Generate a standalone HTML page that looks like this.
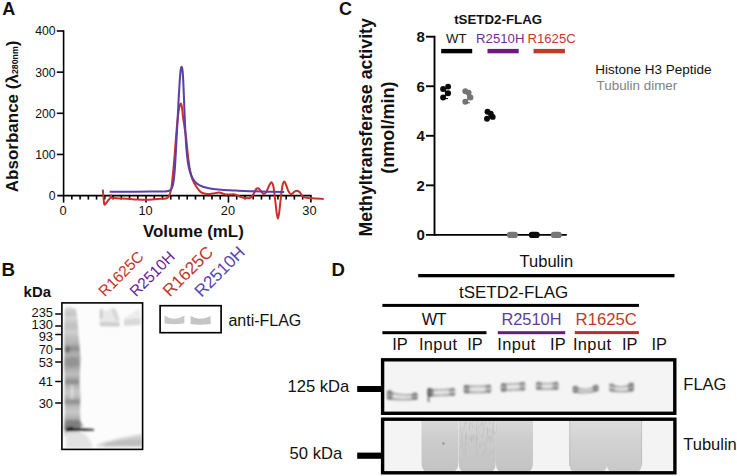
<!DOCTYPE html>
<html><head><meta charset="utf-8"><style>
html,body{margin:0;padding:0;background:#fff;}
svg{display:block;}
text{font-family:"Liberation Sans",sans-serif;}
.b{font-weight:bold;}
</style></head><body>
<svg width="737" height="476" viewBox="0 0 737 476">
<defs>
<filter id="blur1" x="-20%" y="-20%" width="140%" height="140%"><feGaussianBlur stdDeviation="0.8"/></filter>
<filter id="blur07" x="-20%" y="-20%" width="140%" height="140%"><feGaussianBlur stdDeviation="0.6"/></filter>
<filter id="mottle" x="0" y="0" width="100%" height="100%" color-interpolation-filters="sRGB"><feTurbulence type="fractalNoise" baseFrequency="0.55 0.14" numOctaves="2" seed="7" result="n"/><feColorMatrix in="n" type="matrix" values="0 0 0 0 0.70  0 0 0 0 0.70  0 0 0 0 0.70  0 0 0 2.6 -1.15" result="nm"/><feGaussianBlur in="nm" stdDeviation="0.6" result="nb"/><feComposite in="nb" in2="SourceGraphic" operator="in"/></filter>
<filter id="blur09" x="-20%" y="-20%" width="140%" height="140%"><feGaussianBlur stdDeviation="0.9"/></filter>
<filter id="blur3" x="-20%" y="-20%" width="140%" height="140%"><feGaussianBlur stdDeviation="1.8"/></filter>
<filter id="blur2" x="-20%" y="-20%" width="140%" height="140%"><feGaussianBlur stdDeviation="1.2"/></filter>
<linearGradient id="ladg" gradientUnits="userSpaceOnUse" x1="0" y1="305" x2="0" y2="448">
<stop offset="0.000" stop-color="#f4f4f4"/><stop offset="0.028" stop-color="#d4d4d4"/><stop offset="0.063" stop-color="#c4c4c4"/><stop offset="0.091" stop-color="#d8d8d8"/><stop offset="0.119" stop-color="#c8c8c8"/><stop offset="0.154" stop-color="#c0c0c0"/><stop offset="0.189" stop-color="#d0d0d0"/><stop offset="0.224" stop-color="#c0c0c0"/><stop offset="0.266" stop-color="#b4b4b4"/><stop offset="0.308" stop-color="#8c8c8c"/><stop offset="0.336" stop-color="#b0b0b0"/><stop offset="0.371" stop-color="#a4a4a4"/><stop offset="0.406" stop-color="#9a9a9a"/><stop offset="0.441" stop-color="#a8a8a8"/><stop offset="0.483" stop-color="#c0c0c0"/><stop offset="0.510" stop-color="#acacac"/><stop offset="0.538" stop-color="#8a8a8a"/><stop offset="0.566" stop-color="#b4b4b4"/><stop offset="0.608" stop-color="#c8c8c8"/><stop offset="0.643" stop-color="#bcbcbc"/><stop offset="0.678" stop-color="#8c8c8c"/><stop offset="0.706" stop-color="#b8b8b8"/><stop offset="0.748" stop-color="#c8c8c8"/><stop offset="0.790" stop-color="#b0b0b0"/><stop offset="0.825" stop-color="#8c8c8c"/><stop offset="0.853" stop-color="#7a7a7a"/><stop offset="0.888" stop-color="#d0d0d0"/><stop offset="0.944" stop-color="#dadada"/><stop offset="1.000" stop-color="#e0e0e0"/>
</linearGradient>
<linearGradient id="mgrad" x1="0" y1="0" x2="0" y2="1"><stop offset="0" stop-color="#fff"/><stop offset=".55" stop-color="#fff"/><stop offset="1" stop-color="#000"/></linearGradient>
<mask id="mmask" maskUnits="userSpaceOnUse" x="455" y="418" width="50" height="50"><rect x="460" y="420" width="37" height="44" fill="url(#mgrad)" filter="url(#blur2)"/></mask>
<linearGradient id="tg2" x1="0" y1="0" x2="0" y2="1"><stop offset="0" stop-color="#dedede"/><stop offset=".4" stop-color="#d2d2d2"/><stop offset="1" stop-color="#c8c8c8"/></linearGradient>
<linearGradient id="tg" x1="0" y1="0" x2="0" y2="1">
<stop offset="0" stop-color="#d9d9d9"/><stop offset=".35" stop-color="#cdcdcd"/><stop offset="1" stop-color="#c3c3c3"/>
</linearGradient>
</defs>
<rect width="737" height="476" fill="#fff"/>
<g fill="#111">
<text x="2.3" y="14.9" class="b" font-size="18">A</text>
<g stroke="#000" stroke-width="1.6" fill="none">
<line x1="63.60" y1="30.2" x2="63.60" y2="202.6"/>
<line x1="57.3" y1="195.60" x2="311.6" y2="195.60"/>
<line x1="56.8" y1="154.45" x2="63.60" y2="154.45"/>
<line x1="56.8" y1="113.30" x2="63.60" y2="113.30"/>
<line x1="56.8" y1="72.15" x2="63.60" y2="72.15"/>
<line x1="56.8" y1="31.00" x2="63.60" y2="31.00"/>
<line x1="71.84" y1="195.60" x2="71.84" y2="199.60"/>
<line x1="80.09" y1="195.60" x2="80.09" y2="199.60"/>
<line x1="88.33" y1="195.60" x2="88.33" y2="199.60"/>
<line x1="96.57" y1="195.60" x2="96.57" y2="199.60"/>
<line x1="104.81" y1="195.60" x2="104.81" y2="199.60"/>
<line x1="113.06" y1="195.60" x2="113.06" y2="199.60"/>
<line x1="121.30" y1="195.60" x2="121.30" y2="199.60"/>
<line x1="129.54" y1="195.60" x2="129.54" y2="199.60"/>
<line x1="137.79" y1="195.60" x2="137.79" y2="199.60"/>
<line x1="146.03" y1="195.60" x2="146.03" y2="202.60"/>
<line x1="154.27" y1="195.60" x2="154.27" y2="199.60"/>
<line x1="162.52" y1="195.60" x2="162.52" y2="199.60"/>
<line x1="170.76" y1="195.60" x2="170.76" y2="199.60"/>
<line x1="179.00" y1="195.60" x2="179.00" y2="199.60"/>
<line x1="187.25" y1="195.60" x2="187.25" y2="199.60"/>
<line x1="195.49" y1="195.60" x2="195.49" y2="199.60"/>
<line x1="203.73" y1="195.60" x2="203.73" y2="199.60"/>
<line x1="211.97" y1="195.60" x2="211.97" y2="199.60"/>
<line x1="220.22" y1="195.60" x2="220.22" y2="199.60"/>
<line x1="228.46" y1="195.60" x2="228.46" y2="202.60"/>
<line x1="236.70" y1="195.60" x2="236.70" y2="199.60"/>
<line x1="244.95" y1="195.60" x2="244.95" y2="199.60"/>
<line x1="253.19" y1="195.60" x2="253.19" y2="199.60"/>
<line x1="261.43" y1="195.60" x2="261.43" y2="199.60"/>
<line x1="269.68" y1="195.60" x2="269.68" y2="199.60"/>
<line x1="277.92" y1="195.60" x2="277.92" y2="199.60"/>
<line x1="286.16" y1="195.60" x2="286.16" y2="199.60"/>
<line x1="294.40" y1="195.60" x2="294.40" y2="199.60"/>
<line x1="302.65" y1="195.60" x2="302.65" y2="199.60"/>
<line x1="310.89" y1="195.60" x2="310.89" y2="202.60"/>
</g>
<text x="55.5" y="200.00" font-size="12.2" text-anchor="end">0</text>
<text x="55.5" y="158.85" font-size="12.2" text-anchor="end">100</text>
<text x="55.5" y="117.70" font-size="12.2" text-anchor="end">200</text>
<text x="55.5" y="76.55" font-size="12.2" text-anchor="end">300</text>
<text x="55.5" y="35.40" font-size="12.2" text-anchor="end">400</text>
<text x="63.10" y="214.8" font-size="12.8" text-anchor="middle">0</text>
<text x="145.53" y="214.8" font-size="12.8" text-anchor="middle">10</text>
<text x="227.96" y="214.8" font-size="12.8" text-anchor="middle">20</text>
<text x="309.39" y="214.8" font-size="12.8" text-anchor="middle">30</text>
<text x="143" y="237" class="b" font-size="16.85">Volume (mL)</text>
<text transform="translate(17.6,192.2) rotate(-90)" class="b" font-size="17">Absorbance (λ<tspan font-size="8.8">280nm</tspan>)</text>
<path d="M102.80,189.60 C102.92,190.83 103.25,194.55 103.50,197.00 C103.75,199.45 103.88,203.27 104.30,204.30 C104.72,205.33 105.30,203.95 106.00,203.20 C106.70,202.45 107.78,200.67 108.50,199.80 C109.22,198.93 109.88,198.77 110.30,198.00 C110.72,197.23 110.77,195.23 111.00,195.20 C111.23,195.17 110.20,197.27 111.70,197.80 C113.20,198.33 116.12,198.13 120.00,198.40 C123.88,198.67 130.67,199.17 135.00,199.40 C139.33,199.63 142.17,199.87 146.00,199.80 C149.83,199.73 154.67,199.23 158.00,199.00 C161.33,198.77 164.20,198.80 166.00,198.40 C167.80,198.00 168.08,197.58 168.80,196.60 C169.52,195.62 169.85,194.02 170.30,192.50 C170.75,190.98 171.15,189.72 171.50,187.50 C171.85,185.28 172.07,182.45 172.40,179.20 C172.73,175.95 173.15,171.70 173.50,168.00 C173.85,164.30 174.12,161.67 174.50,157.00 C174.88,152.33 175.40,145.07 175.80,140.00 C176.20,134.93 176.52,130.77 176.90,126.60 C177.28,122.43 177.72,118.18 178.10,115.00 C178.48,111.82 178.75,109.40 179.20,107.50 C179.65,105.60 180.33,103.60 180.80,103.60 C181.27,103.60 181.65,105.43 182.00,107.50 C182.35,109.57 182.48,112.75 182.90,116.00 C183.32,119.25 183.98,123.50 184.50,127.00 C185.02,130.50 185.55,133.50 186.00,137.00 C186.45,140.50 186.83,144.50 187.20,148.00 C187.57,151.50 187.73,154.33 188.20,158.00 C188.67,161.67 189.30,166.47 190.00,170.00 C190.70,173.53 191.45,176.60 192.40,179.20 C193.35,181.80 194.32,183.45 195.70,185.60 C197.08,187.75 198.77,190.70 200.70,192.10 C202.63,193.50 205.25,193.75 207.30,194.00 C209.35,194.25 211.02,193.83 213.00,193.60 C214.98,193.37 216.98,192.45 219.20,192.60 C221.42,192.75 223.68,194.20 226.30,194.50 C228.92,194.80 232.37,193.93 234.90,194.40 C237.43,194.87 238.98,196.70 241.50,197.30 C244.02,197.90 248.00,198.55 250.00,198.00 C252.00,197.45 252.47,195.50 253.50,194.00 C254.53,192.50 255.42,189.95 256.20,189.00 C256.98,188.05 257.43,188.00 258.20,188.30 C258.97,188.60 259.87,189.85 260.80,190.80 C261.73,191.75 262.88,193.80 263.80,194.00 C264.72,194.20 265.40,193.42 266.30,192.00 C267.20,190.58 268.35,187.12 269.20,185.50 C270.05,183.88 270.70,182.13 271.40,182.30 C272.10,182.47 272.77,183.55 273.40,186.50 C274.03,189.45 274.67,195.67 275.20,200.00 C275.73,204.33 276.15,209.40 276.60,212.50 C277.05,215.60 277.47,218.60 277.90,218.60 C278.33,218.60 278.75,215.60 279.20,212.50 C279.65,209.40 280.07,204.42 280.60,200.00 C281.13,195.58 281.78,189.07 282.40,186.00 C283.02,182.93 283.65,181.68 284.30,181.60 C284.95,181.52 285.58,183.83 286.30,185.50 C287.02,187.17 287.78,190.13 288.60,191.60 C289.42,193.07 290.27,194.27 291.20,194.30 C292.13,194.33 293.20,192.40 294.20,191.80 C295.20,191.20 296.23,190.58 297.20,190.70 C298.17,190.82 299.15,191.65 300.00,192.50 C300.85,193.35 301.47,194.95 302.30,195.80 C303.13,196.65 303.38,197.18 305.00,197.60 C306.62,198.02 308.88,198.07 312.00,198.30 C315.12,198.53 321.75,198.88 323.70,199.00" fill="none" stroke="#c9302c" stroke-width="2.0" stroke-linejoin="round"/>
<path d="M109.70,191.70 C113.08,191.70 123.28,191.72 130.00,191.70 C136.72,191.68 144.17,191.65 150.00,191.60 C155.83,191.55 161.92,191.52 165.00,191.40 C168.08,191.28 167.53,191.20 168.50,190.90 C169.47,190.60 170.15,190.28 170.80,189.60 C171.45,188.92 171.93,188.23 172.40,186.80 C172.87,185.37 173.23,183.47 173.60,181.00 C173.97,178.53 174.28,175.83 174.60,172.00 C174.92,168.17 175.17,163.67 175.50,158.00 C175.83,152.33 176.22,145.00 176.60,138.00 C176.98,131.00 177.43,123.00 177.80,116.00 C178.17,109.00 178.47,102.00 178.80,96.00 C179.13,90.00 179.48,84.33 179.80,80.00 C180.12,75.67 180.40,72.20 180.70,70.00 C181.00,67.80 181.30,66.80 181.60,66.80 C181.90,66.80 182.23,67.80 182.50,70.00 C182.77,72.20 182.97,75.67 183.20,80.00 C183.43,84.33 183.67,90.17 183.90,96.00 C184.13,101.83 184.35,109.00 184.60,115.00 C184.85,121.00 185.08,126.17 185.40,132.00 C185.72,137.83 186.07,144.83 186.50,150.00 C186.93,155.17 187.42,159.33 188.00,163.00 C188.58,166.67 189.17,169.33 190.00,172.00 C190.83,174.67 191.83,177.07 193.00,179.00 C194.17,180.93 195.33,182.30 197.00,183.60 C198.67,184.90 200.83,186.00 203.00,186.80 C205.17,187.60 206.92,187.90 210.00,188.40 C213.08,188.90 217.17,189.43 221.50,189.80 C225.83,190.17 231.25,190.37 236.00,190.60 C240.75,190.83 244.33,191.02 250.00,191.20 C255.67,191.38 264.30,191.55 270.00,191.70 C275.70,191.85 281.83,192.03 284.20,192.10" fill="none" stroke="#5c40aa" stroke-width="2.05" stroke-linejoin="round"/>
<text x="1.6" y="275.8" class="b" font-size="18.8">B</text>
<text x="23.6" y="297.2" class="b" font-size="14.9">kDa</text>
<text x="53.0" y="317.3" font-size="12.9" text-anchor="end">235</text>
<line x1="55.2" y1="314.0" x2="61.4" y2="314.0" stroke="#000" stroke-width="1.5"/>
<text x="53.0" y="329.2" font-size="12.9" text-anchor="end">130</text>
<line x1="55.2" y1="326.0" x2="61.4" y2="326.0" stroke="#000" stroke-width="1.5"/>
<text x="53.0" y="340.6" font-size="12.9" text-anchor="end">93</text>
<line x1="55.2" y1="334.5" x2="61.4" y2="334.5" stroke="#000" stroke-width="1.5"/>
<text x="53.0" y="354.2" font-size="12.9" text-anchor="end">70</text>
<line x1="55.2" y1="349.0" x2="61.4" y2="349.0" stroke="#000" stroke-width="1.5"/>
<text x="53.0" y="366.8" font-size="12.9" text-anchor="end">53</text>
<line x1="55.2" y1="362.0" x2="61.4" y2="362.0" stroke="#000" stroke-width="1.5"/>
<text x="53.0" y="386.3" font-size="12.9" text-anchor="end">41</text>
<line x1="55.2" y1="381.5" x2="61.4" y2="381.5" stroke="#000" stroke-width="1.5"/>
<text x="53.0" y="407.7" font-size="12.9" text-anchor="end">30</text>
<line x1="55.2" y1="403.0" x2="61.4" y2="403.0" stroke="#000" stroke-width="1.5"/>
<text transform="translate(104.8,297.6) rotate(-45)" font-size="15.4" fill="#c0372c">R1625C</text>
<text transform="translate(136.0,297.6) rotate(-45)" font-size="15.4" fill="#6a1d96">R2510H</text>
<text transform="translate(169.8,297.5) rotate(-45)" font-size="17.1" fill="#c0372c">R1625C</text>
<text transform="translate(201.4,298.0) rotate(-45)" font-size="17.2" fill="#5a48b0">R2510H</text>
<rect x="62.2" y="303.3" width="80" height="145" fill="#fcfcfc"/>
<g filter="url(#blur2)">
<path d="M64.5,312 C65,307 67,305 69,308 C70,305 72,306 73,309 C74,307 75.5,307 76,310 L77.5,320 L78.5,335 L79.5,345 L80.5,358 L80,370 L79.5,382 L80.5,395 L80,410 L80.5,425 L81,432 L80,436 L64.5,436 L64,430 L64.8,410 L64.3,395 L64.8,380 L64,365 L64.5,350 L64,335 Z" fill="url(#ladg)"/>
<ellipse cx="67.5" cy="349.5" rx="2.6" ry="3.5" fill="#666" opacity=".7"/>
<ellipse cx="72" cy="362" rx="7" ry="5" fill="#888" opacity=".45"/>
<rect x="70.5" y="385" width="3" height="14" fill="#fff" opacity=".35"/>
<path d="M65.5,428.5 L71,426.5 L74,428 L94,429 L94,430.5 L66,431.5 Z" fill="#1e1e1e"/>
<path d="M66,420 L80,420 L84,427 L66,427 Z" fill="#777" opacity=".55"/>
<path d="M99.5,326 L99.5,311 C100,308 102,307.5 103,310 C105,312 108,311 111,308.5 C113,307 115,308 117,311 L119.5,318 L119.5,326.5 Z" fill="#e8e8e8"/>
<path d="M124,326 L124,318 C127,316 130,315 133,313 C135,311 137,309 139,309.5 L140.5,312 L140.5,325 Z" fill="#ececec"/>
<rect x="100.2" y="309.5" width="2.2" height="9" fill="#c4c4c4"/>
<path d="M111.5,309 L115,309 L119,320 L116,321 Z" fill="#d4d4d4"/>
<path d="M100,322 L119.5,322.5 L119.5,326.5 L100,326.2 Z" fill="#cdcdcd"/>
<path d="M124,319.5 L140.5,318.5 L140.5,325 L124,325.5 Z" fill="#d8d8d8"/>
</g>
<g filter="url(#blur3)">
<path d="M66,433 L84,433 L90,440 L93,448 L66,448 Z" fill="#e2e2e2"/>
<path d="M97,446.5 L97,444.5 C108,441 124,437 142,434 L142,446.5 Z" fill="#d2d2d2"/>
<path d="M104,446.5 L104,443.5 C116,441 130,439 142,438.5 L142,446.5 Z" fill="#bdbdbd"/>
</g>
<rect x="61.9" y="302.9" width="80.7" height="146.5" fill="none" stroke="#000" stroke-width="1.6"/>
<g filter="url(#blur07)">
<path d="M164.5,315.5 Q174,322 184.4,315.5 L184.4,323.3 Q174,325 164.5,323.3 Z" fill="#c8c8c8"/>
<path d="M190.6,316 Q200,321.5 210.6,316 L210.6,324 Q200,325.5 190.6,324 Z" fill="#c4c4c4"/>
</g>
<rect x="160.1" y="305.7" width="61" height="27" fill="none" stroke="#000" stroke-width="1.65"/>
<text x="228.4" y="325.5" font-size="16">anti-FLAG</text>
<text x="338.9" y="15.0" class="b" font-size="18">C</text>
<g stroke="#000" stroke-width="1.9" fill="none">
<line x1="434.5" y1="35.8" x2="434.5" y2="235.8"/>
<line x1="426" y1="234.9" x2="566.8" y2="234.9"/>
<line x1="426" y1="185.35" x2="434.5" y2="185.35"/>
<line x1="426" y1="135.80" x2="434.5" y2="135.80"/>
<line x1="426" y1="86.25" x2="434.5" y2="86.25"/>
<line x1="426" y1="36.70" x2="434.5" y2="36.70"/>
</g>
<text x="424.9" y="240.35" class="b" font-size="15" text-anchor="end">0</text>
<text x="424.9" y="190.80" class="b" font-size="15" text-anchor="end">2</text>
<text x="424.9" y="141.25" class="b" font-size="15" text-anchor="end">4</text>
<text x="424.9" y="91.70" class="b" font-size="15" text-anchor="end">6</text>
<text x="424.9" y="42.15" class="b" font-size="15" text-anchor="end">8</text>
<text x="454.2" y="23.9" class="b" font-size="13.3">tSETD2-FLAG</text>
<text x="446.1" y="42.7" font-size="13.2">WT</text>
<text x="476.1" y="42.7" font-size="13.2" fill="#7a2a96">R2510H</text>
<text x="527.4" y="42.7" font-size="13.2" fill="#c8382c">R1625C</text>
<rect x="441.2" y="48.9" width="31" height="4.4" fill="#000"/>
<rect x="487.5" y="48.9" width="31.2" height="4.4" fill="#6a1a80"/>
<rect x="533.5" y="48.9" width="31.4" height="4.4" fill="#c0392b"/>
<text x="595.3" y="73.6" font-size="13.5" fill="#111">Histone H3 Peptide</text>
<text x="596.6" y="89.9" font-size="13.4" fill="#828282">Tubulin dimer</text>
<g class="b" font-size="18" text-anchor="middle">
<text transform="translate(372,127.3) rotate(-90)" font-size="17.8">Methyltransferase activity</text>
<text transform="translate(394.2,127.6) rotate(-90)" font-size="18.1">(nmol/min)</text>
</g>
<line x1="445.6" y1="88" x2="445.6" y2="96.5" stroke="#0a0a0a" stroke-width="1.4"/>
<line x1="467.8" y1="92" x2="467.8" y2="100.5" stroke="#777" stroke-width="1.4"/>
<line x1="489.8" y1="112" x2="489.8" y2="119" stroke="#0a0a0a" stroke-width="1.4"/>
<circle cx="443.1" cy="89.0" r="2.95" fill="#0a0a0a"/>
<circle cx="448.1" cy="86.6" r="2.95" fill="#0a0a0a"/>
<circle cx="448.1" cy="93.2" r="2.95" fill="#0a0a0a"/>
<circle cx="443.1" cy="97.5" r="2.95" fill="#0a0a0a"/>
<circle cx="487.5" cy="111.7" r="2.95" fill="#0a0a0a"/>
<circle cx="490.8" cy="113.8" r="2.95" fill="#0a0a0a"/>
<circle cx="492.7" cy="116.9" r="2.95" fill="#0a0a0a"/>
<circle cx="487.0" cy="118.8" r="2.95" fill="#0a0a0a"/>
<circle cx="465.3" cy="91.3" r="2.95" fill="#757575"/>
<circle cx="468.6" cy="92.8" r="2.95" fill="#757575"/>
<circle cx="470.5" cy="97.5" r="2.95" fill="#757575"/>
<circle cx="465.3" cy="101.7" r="2.95" fill="#757575"/>
<line x1="444.5" y1="98.6" x2="448" y2="98.6" stroke="#000" stroke-width="1"/>
<line x1="466.5" y1="102.8" x2="470" y2="102.8" stroke="#555" stroke-width="1"/>
<rect x="506.9" y="231.8" width="11" height="6.2" rx="3.1" fill="#777"/>
<rect x="528.8" y="231.8" width="11" height="6.2" rx="3.1" fill="#0a0a0a"/>
<rect x="550.8" y="231.8" width="11" height="6.2" rx="3.1" fill="#777"/>
<text x="331.4" y="275.6" class="b" font-size="18.6">D</text>
<text x="519.6" y="266.8" font-size="16.5">Tubulin</text>
<rect x="418.2" y="274.0" width="256.3" height="3.3" fill="#000"/>
<text x="459.0" y="297.6" font-size="16.95">tSETD2-FLAG</text>
<rect x="382.4" y="303.9" width="256.6" height="3" fill="#000"/>
<text x="421.7" y="324.7" font-size="16.3" letter-spacing="-0.5">WT</text>
<text x="501.4" y="324.9" font-size="16.4" fill="#5e3d99">R2510H</text>
<text x="575.6" y="325.2" font-size="16.7" fill="#c0392b">R1625C</text>
<rect x="382.4" y="331.2" width="104.1" height="3" fill="#000"/>
<rect x="497.8" y="331.2" width="67.4" height="3" fill="#6a1b7e"/>
<rect x="574.8" y="331.1" width="64.1" height="3" fill="#c62828"/>
<text x="392.3" y="350.4" font-size="16.4">IP</text>
<text x="418.9" y="350.4" font-size="16.4" letter-spacing="0.4">Input</text>
<text x="467.3" y="350.4" font-size="16.4">IP</text>
<text x="497.2" y="350.4" font-size="16.4" letter-spacing="0.4">Input</text>
<text x="550.1" y="350.4" font-size="16.4">IP</text>
<text x="572.9" y="350.4" font-size="16.4" letter-spacing="0.4">Input</text>
<text x="622.0" y="350.4" font-size="16.4">IP</text>
<text x="651.4" y="350.4" font-size="16.4">IP</text>
<text x="287.5" y="391.7" font-size="16.6">125 kDa</text>
<text x="289.6" y="458.9" font-size="16.6">50 kDa</text>
<rect x="357.2" y="386.0" width="25" height="6" fill="#000"/>
<rect x="357.2" y="452.6" width="25" height="6.2" fill="#000"/>
<text x="683.3" y="390.2" font-size="16.5">FLAG</text>
<text x="683.3" y="449.6" font-size="16.5">Tubulin</text>
<rect x="383" y="360" width="291.6" height="54" fill="#f4f4f5"/>
<g filter="url(#blur09)">
<linearGradient id="bg0" gradientUnits="userSpaceOnUse" x1="387.2" y1="0" x2="417.3" y2="0"><stop offset="0" stop-color="#777"/><stop offset=".25" stop-color="#a4a4a4"/><stop offset=".5" stop-color="#b8b8b8"/><stop offset=".75" stop-color="#a4a4a4"/><stop offset="1" stop-color="#808080"/></linearGradient>
<path d="M387.2,390.0 Q402.2,395.9 417.3,392.3 L417.3,400.6 Q402.2,402.8 387.2,400.2 Z" fill="#e6e6e6"/>
<path d="M387.2,391.5 Q402.2,397.4 417.3,393.8" fill="none" stroke="url(#bg0)" stroke-width="1.7"/>
<path d="M387.2,398.2 Q402.2,400.8 417.3,398.6" fill="none" stroke="url(#bg0)" stroke-width="2.0"/>
<ellipse cx="389.8" cy="394.9" rx="3.2" ry="4.8" fill="#666" opacity="0.60"/>
<ellipse cx="414.7" cy="396.2" rx="3.2" ry="3.9" fill="#666" opacity="0.52"/>
<linearGradient id="bg1" gradientUnits="userSpaceOnUse" x1="427.8" y1="0" x2="454.8" y2="0"><stop offset="0" stop-color="#777"/><stop offset=".25" stop-color="#a4a4a4"/><stop offset=".5" stop-color="#b8b8b8"/><stop offset=".75" stop-color="#a4a4a4"/><stop offset="1" stop-color="#808080"/></linearGradient>
<path d="M427.8,388.1 Q441.3,388.7 454.8,387.7 L454.8,396.6 Q441.3,397.7 427.8,397.6 Z" fill="#e6e6e6"/>
<path d="M427.8,389.6 Q441.3,390.2 454.8,389.2" fill="none" stroke="url(#bg1)" stroke-width="1.7"/>
<path d="M427.8,395.6 Q441.3,395.7 454.8,394.6" fill="none" stroke="url(#bg1)" stroke-width="2.0"/>
<ellipse cx="430.4" cy="392.6" rx="3.2" ry="4.5" fill="#666" opacity="0.76"/>
<ellipse cx="452.2" cy="391.9" rx="3.2" ry="4.2" fill="#666" opacity="0.36"/>
<linearGradient id="bg2" gradientUnits="userSpaceOnUse" x1="464.0" y1="0" x2="491.0" y2="0"><stop offset="0" stop-color="#777"/><stop offset=".25" stop-color="#a4a4a4"/><stop offset=".5" stop-color="#b8b8b8"/><stop offset=".75" stop-color="#a4a4a4"/><stop offset="1" stop-color="#808080"/></linearGradient>
<path d="M464.0,384.7 Q477.5,385.3 491.0,384.3 L491.0,393.4 Q477.5,394.7 464.0,394.0 Z" fill="#e6e6e6"/>
<path d="M464.0,386.2 Q477.5,386.8 491.0,385.8" fill="none" stroke="url(#bg2)" stroke-width="1.7"/>
<path d="M464.0,392.0 Q477.5,392.7 491.0,391.4" fill="none" stroke="url(#bg2)" stroke-width="2.0"/>
<ellipse cx="466.6" cy="389.1" rx="3.2" ry="4.4" fill="#666" opacity="0.56"/>
<ellipse cx="488.4" cy="388.6" rx="3.2" ry="4.3" fill="#666" opacity="0.36"/>
<linearGradient id="bg3" gradientUnits="userSpaceOnUse" x1="501.2" y1="0" x2="525.0" y2="0"><stop offset="0" stop-color="#777"/><stop offset=".25" stop-color="#a4a4a4"/><stop offset=".5" stop-color="#b8b8b8"/><stop offset=".75" stop-color="#a4a4a4"/><stop offset="1" stop-color="#808080"/></linearGradient>
<path d="M501.2,382.9 Q513.1,382.7 525.0,381.7 L525.0,391.2 Q513.1,391.7 501.2,392.6 Z" fill="#e6e6e6"/>
<path d="M501.2,384.4 Q513.1,384.2 525.0,383.2" fill="none" stroke="url(#bg3)" stroke-width="1.7"/>
<path d="M501.2,390.6 Q513.1,389.7 525.0,389.2" fill="none" stroke="url(#bg3)" stroke-width="2.0"/>
<ellipse cx="503.8" cy="387.5" rx="3.2" ry="4.6" fill="#666" opacity="0.56"/>
<ellipse cx="522.4" cy="386.2" rx="3.2" ry="4.5" fill="#666" opacity="0.40"/>
<linearGradient id="bg4" gradientUnits="userSpaceOnUse" x1="536.3" y1="0" x2="558.2" y2="0"><stop offset="0" stop-color="#777"/><stop offset=".25" stop-color="#a4a4a4"/><stop offset=".5" stop-color="#b8b8b8"/><stop offset=".75" stop-color="#a4a4a4"/><stop offset="1" stop-color="#808080"/></linearGradient>
<path d="M536.3,381.5 Q547.2,382.7 558.2,381.5 L558.2,390.5 Q547.2,391.5 536.3,390.5 Z" fill="#e6e6e6"/>
<path d="M536.3,383.0 Q547.2,384.2 558.2,383.0" fill="none" stroke="url(#bg4)" stroke-width="1.7"/>
<path d="M536.3,388.5 Q547.2,389.5 558.2,388.5" fill="none" stroke="url(#bg4)" stroke-width="2.0"/>
<ellipse cx="538.9" cy="385.8" rx="3.2" ry="4.2" fill="#666" opacity="0.44"/>
<ellipse cx="555.6" cy="385.8" rx="3.2" ry="4.2" fill="#666" opacity="0.44"/>
<linearGradient id="bg5" gradientUnits="userSpaceOnUse" x1="573.0" y1="0" x2="598.2" y2="0"><stop offset="0" stop-color="#777"/><stop offset=".25" stop-color="#a4a4a4"/><stop offset=".5" stop-color="#b8b8b8"/><stop offset=".75" stop-color="#a4a4a4"/><stop offset="1" stop-color="#808080"/></linearGradient>
<path d="M573.0,385.5 Q585.6,391.0 598.2,384.5 L598.2,392.0 Q585.6,396.2 573.0,393.5 Z" fill="#e6e6e6"/>
<path d="M573.0,387.0 Q585.6,392.5 598.2,386.0" fill="none" stroke="url(#bg5)" stroke-width="1.7"/>
<path d="M573.0,391.5 Q585.6,394.2 598.2,390.0" fill="none" stroke="url(#bg5)" stroke-width="2.0"/>
<ellipse cx="575.6" cy="389.2" rx="3.2" ry="3.8" fill="#666" opacity="0.52"/>
<ellipse cx="595.6" cy="388.0" rx="3.2" ry="3.5" fill="#666" opacity="0.56"/>
<linearGradient id="bg6" gradientUnits="userSpaceOnUse" x1="609.5" y1="0" x2="633.6" y2="0"><stop offset="0" stop-color="#777"/><stop offset=".25" stop-color="#a4a4a4"/><stop offset=".5" stop-color="#b8b8b8"/><stop offset=".75" stop-color="#a4a4a4"/><stop offset="1" stop-color="#808080"/></linearGradient>
<path d="M609.5,383.0 Q621.5,388.4 633.6,382.3 L633.6,392.0 Q621.5,395.0 609.5,392.0 Z" fill="#e6e6e6"/>
<path d="M609.5,384.5 Q621.5,389.9 633.6,383.8" fill="none" stroke="url(#bg6)" stroke-width="1.7"/>
<path d="M609.5,390.0 Q621.5,393.0 633.6,390.0" fill="none" stroke="url(#bg6)" stroke-width="2.0"/>
<ellipse cx="612.1" cy="387.2" rx="3.2" ry="4.2" fill="#666" opacity="0.28"/>
<ellipse cx="631.0" cy="386.9" rx="3.2" ry="4.6" fill="#666" opacity="0.56"/>
<rect x="427.8" y="388" width="1.6" height="14" fill="#444" opacity=".8"/>
</g>
<rect x="382.6" y="359.8" width="292.2" height="53.5" fill="none" stroke="#000" stroke-width="3.4"/>
<rect x="383" y="419.5" width="291.6" height="53" fill="#f3f3f3"/>
<rect x="383" y="419.5" width="40" height="53" fill="#f4f4f4"/>
<g filter="url(#blur07)">
<path d="M421.5,420 L458.3,420 L458.3,461.0 Q458.3,472 452.8,472 L427.0,472 Q421.5,472 421.5,461.0 Z" fill="url(#tg)"/>
<path d="M458.6,420 L495.8,420 L495.8,461.0 Q495.8,472 490.3,472 L464.1,472 Q458.6,472 458.6,461.0 Z" fill="url(#tg)"/>
<path d="M495.8,420 L533.0,420 L533.0,461.0 Q533.0,472 527.5,472 L501.3,472 Q495.8,472 495.8,461.0 Z" fill="url(#tg)"/>
<path d="M569.2,420 L607.2,420 L607.2,461.0 Q607.2,472 601.7,472 L574.7,472 Q569.2,472 569.2,461.0 Z" fill="url(#tg2)"/>
<path d="M606.6,420 L642.0,420 L642.0,461.0 Q642.0,472 636.5,472 L612.1,472 Q606.6,472 606.6,461.0 Z" fill="url(#tg2)"/>
<rect x="569.0" y="420" width="1.2" height="46" fill="#999" opacity="0.25"/>
<rect x="641.0" y="420" width="1.2" height="46" fill="#999" opacity="0.30"/>
<circle cx="443.5" cy="443.5" r="1.3" fill="#999"/>
</g>
<rect x="460" y="420" width="37" height="44" fill="#aaa" filter="url(#mottle)" mask="url(#mmask)" opacity=".6"/>
<rect x="382.6" y="419.2" width="292.3" height="53.6" fill="none" stroke="#000" stroke-width="3.4"/>
</g>
</svg>
</body></html>
